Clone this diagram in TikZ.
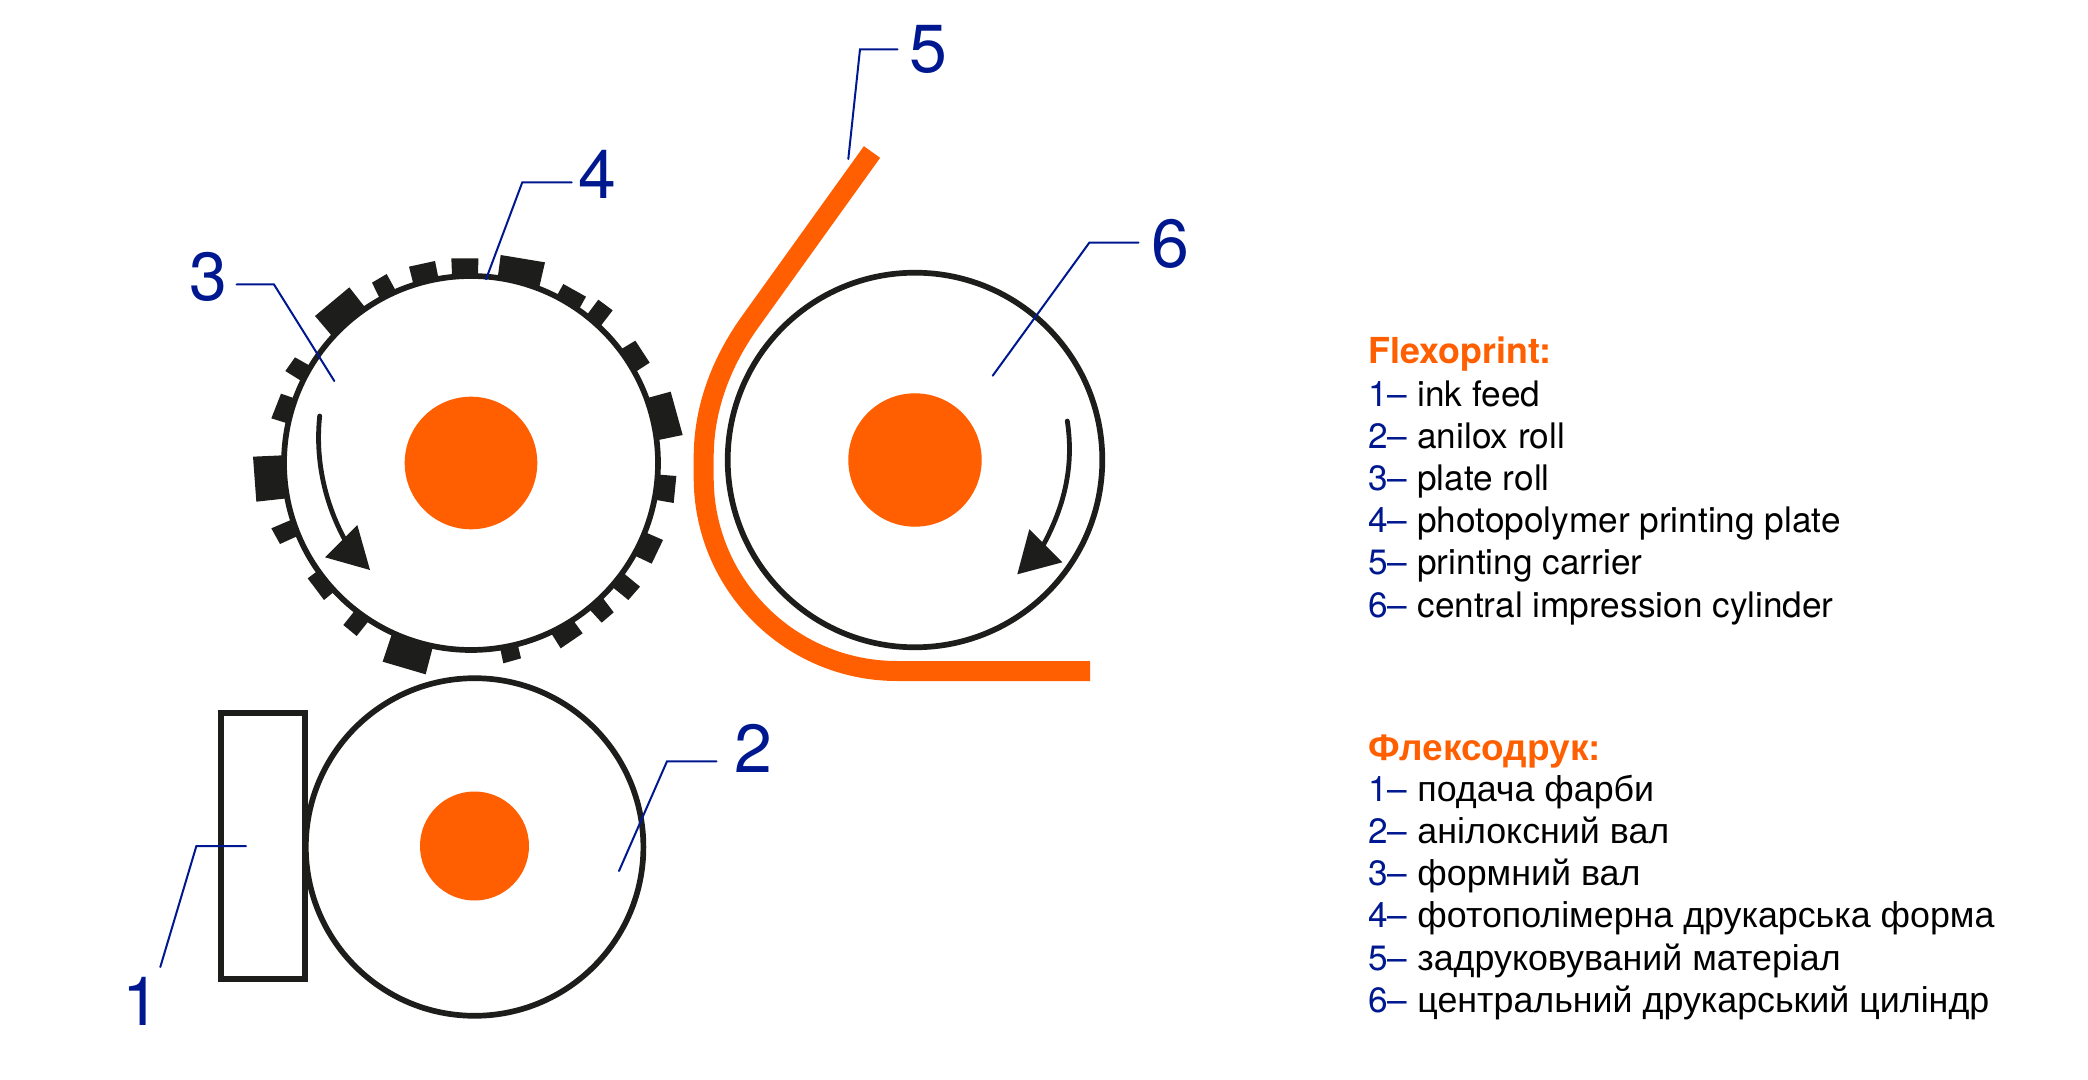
\documentclass[tikz,border=0pt]{standalone}
\usepackage{fontspec}
\setmainfont{TeX Gyre Heros}
\newfontfamily\cyrfont{Liberation Sans}
\usetikzlibrary{calc}
\definecolor{inkdark}{HTML}{1D1D1B}
\definecolor{flexo}{HTML}{FF5F00}
\definecolor{navy}{HTML}{00188F}
\tikzset{
  ring/.style={circle,draw=inkdark,fill=white,line width=2.85pt,inner sep=0pt},
  hub/.style={circle,fill=flexo,inner sep=0pt},
  tooth/.style={fill=inkdark},
  leader/.style={draw=navy,line width=1pt,line cap=round,line join=miter},
  flow/.style={draw=inkdark,line width=2.4pt,line cap=round},
  head/.style={fill=inkdark},
  callout/.style={anchor=base west,inner sep=0pt,text=navy,font=\fontsize{34}{34}\selectfont},
  num/.style={anchor=base west,inner sep=0pt,text=navy,font=\fontsize{17.6}{17.6}\selectfont},
  item/.style={anchor=base west,inner sep=0pt,text=black,font=\fontsize{17.6}{17.6}\selectfont},
  ukitem/.style={anchor=base west,inner sep=0pt,text=black,font=\cyrfont\fontsize{17.9}{17.9}\selectfont},
  ttl/.style={anchor=base west,inner sep=0pt,text=flexo,font=\fontsize{17.9}{18}\selectfont\bfseries},
  ukttl/.style={anchor=base west,inner sep=0pt,text=flexo,font=\cyrfont\fontsize{18.5}{18.5}\selectfont\bfseries},
}
\newcommand\toothshape[4]{\fill[tooth] (#1) -- (#2) -- ($(cc)!0.94!(#3)$) -- ($(cc)!0.94!(#4)$) -- cycle;}
\begin{document}
\begin{tikzpicture}[x=0.5pt,y=-0.5pt]
\useasboundingbox (0,0) rectangle (2088,1080);

% printing plates on the plate roll
\begin{scope}[shift={(230,230)},x=0.166667pt,y=-0.166667pt]
\coordinate (cc) at (723,700);
\toothshape{664,85}{745,85}{745,140}{664,140}
\toothshape{812,75}{945,97}{933,172}{803,148}
\toothshape{1000,162}{1068,200}{1050,240}{983,190}
\toothshape{1105,209}{1148,241}{1115,290}{1075,250}
\toothshape{1216,332}{1259,398}{1222,425}{1175,352}
\toothshape{1322,485}{1358,615}{1290,632}{1255,500}
\toothshape{1339,738}{1331,819}{1275,810}{1285,733}
\toothshape{1299,930}{1265,1001}{1215,980}{1252,908}
\toothshape{1230,1070}{1195,1110}{1150,1075}{1185,1030}
\toothshape{1151,1147}{1115,1178}{1082,1145}{1125,1105}
\toothshape{1058,1210}{992,1255}{965,1220}{1030,1175}
\toothshape{873,1285}{820,1300}{810,1262}{865,1248}
\toothshape{587,1333}{458,1295}{482,1210}{608,1260}
\toothshape{380,1218}{340,1185}{372,1145}{415,1180}
\toothshape{282,1110}{233,1045}{258,1025}{310,1090}
\toothshape{150,942}{124,895}{178,868}{200,918}
\toothshape{79,815}{69,680}{155,673}{170,808}
\toothshape{124,565}{153,491}{190,503}{168,582}
\toothshape{166,423}{195,382}{238,405}{210,455}
\toothshape{255,258}{358,172}{405,228}{300,318}
\toothshape{426,158}{470,132}{497,175}{447,205}
\toothshape{537,110}{615,93}{625,138}{547,160}
\end{scope}

% rolls
\node[ring,minimum size=187pt] (plate) at (471,463) {};
\node[hub,minimum size=66.3pt] (platehub) at (471,463) {};
\node[ring,minimum size=168.8pt] (anilox) at (474.6,847) {};
\node[hub,minimum size=54.5pt] (aniloxhub) at (474.5,846) {};
\node[ring,minimum size=187.3pt] (cyl) at (915,460) {};
\node[hub,minimum size=66.7pt] (cylhub) at (915,460) {};
\node[draw=inkdark,line width=2.85pt,minimum width=42.3pt,minimum height=133.3pt,inner sep=0pt] (feed) at (263,846) {};

% printing carrier
\coordinate (carrierA) at (1090,671);
\coordinate (carrierB) at (897,671);
\coordinate (carrierC) at (703.7,478);
\coordinate (carrierD) at (703.7,457);
\coordinate (carrierE) at (750,322);
\coordinate (carrierF) at (872,152);
\draw[flexo,line width=10pt,line join=round]
  (carrierA) -- (carrierB) arc[start angle=90,end angle=180,radius=193.3]
  -- (carrierD) .. controls (703.7,410) and (720,364) .. (carrierE) -- (carrierF);

% rotation arrows
\coordinate (ra1) at (319.7,416);
\coordinate (ra2) at (345,540);
\draw[flow] (ra1) .. controls (315,460) and (325,503.3) .. (ra2);
\fill[head] (357.3,525) -- (370,570) -- (325,557.3) -- cycle;
\coordinate (rb1) at (1067.3,421);
\coordinate (rb2) at (1043.3,545);
\draw[flow] (rb1) .. controls (1074,465) and (1065,505) .. (rb2);
\fill[head] (1029.3,529.3) -- (1062.3,562.3) -- (1017.3,574.3) -- cycle;

% callouts
\node[callout] (n1) at (122,1025) {1};
\node[callout] (n2) at (734,772) {2};
\node[callout] (n3) at (189,301) {3};
\node[callout] (n4) at (578,198.3) {4};
\node[callout] (n5) at (909,73) {5};
\node[callout] (n6) at (1151.5,268) {6};

\coordinate (l1a) at (160.3,967); \coordinate (l1b) at (196.4,846); \coordinate (l1c) at (246,846);
\coordinate (l2a) at (619,871);   \coordinate (l2b) at (667,761.3); \coordinate (l2c) at (716.5,761.3);
\coordinate (l3a) at (334.3,381); \coordinate (l3b) at (274,284.5);   \coordinate (l3c) at (236.7,284.5);
\coordinate (l4a) at (486,279.3); \coordinate (l4b) at (522.3,182.3); \coordinate (l4c) at (571.7,182.3);
\coordinate (l5a) at (848.3,159); \coordinate (l5b) at (860,49.3);  \coordinate (l5c) at (897.5,49.3);
\coordinate (l6a) at (992.7,375.7); \coordinate (l6b) at (1089.3,242.7); \coordinate (l6c) at (1138.5,242.7);
\foreach \k in {1,...,6} \draw[leader] (l\k a) -- (l\k b) -- (l\k c);

% legend, English
\node[ttl] (entitle) at (1368.5,363.5) {Flexoprint:};
\foreach \k/\y/\t in {1/407/ink feed,2/449/anilox roll,3/490.8/plate roll,4/532.8/photopolymer printing plate,5/574.8/printing carrier,6/617/central impression cylinder}{
  \node[num] (ennum\k) at (1368,\y) {\k–};
  \node[item] (entext\k) at (1417,\y) {\t};
}
% legend, Ukrainian
\node[ukttl] (uktitle) at (1368.5,760) {Флексодрук:};
\foreach \k/\y/\t in {1/801.5/подача фарби,2/843.5/анілоксний вал,3/885.5/формний вал,4/927.5/фотополімерна друкарська форма,5/970/задруковуваний матеріал,6/1012/центральний друкарський циліндр}{
  \node[num] (uknum\k) at (1368,\y) {\k–};
  \node[ukitem] (uktext\k) at (1417,\y) {\t};
}
\end{tikzpicture}
\end{document}
